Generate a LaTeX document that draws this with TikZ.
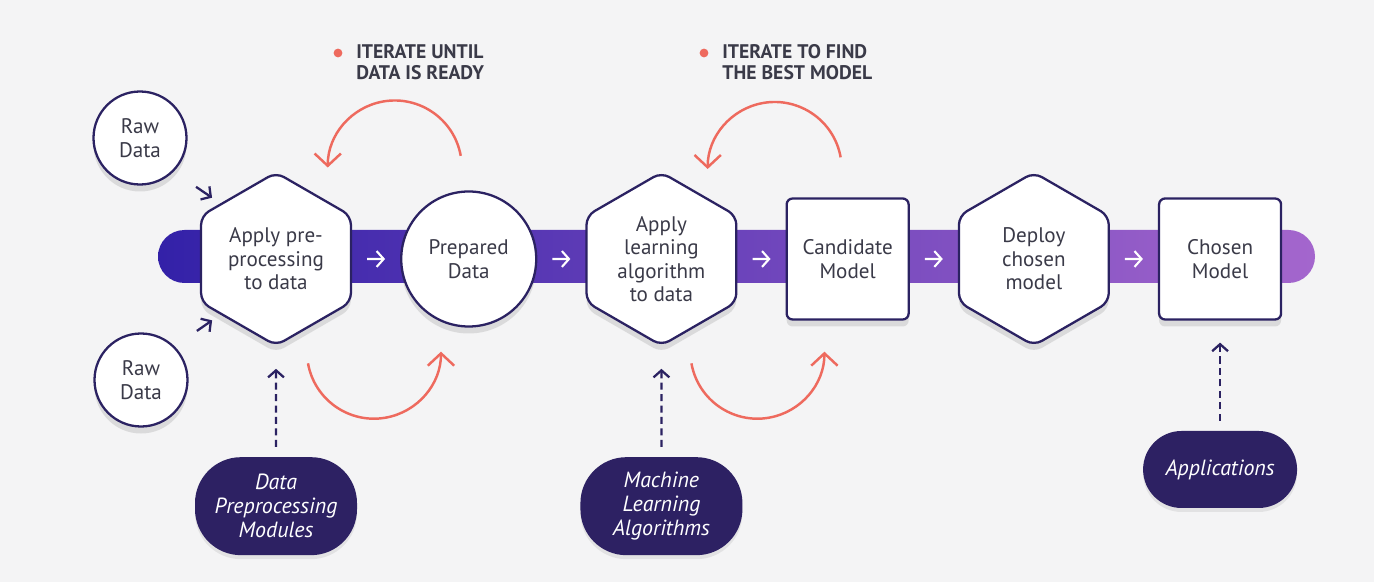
\documentclass[tikz,border=0pt]{standalone}
\usepackage{fontspec}
\setmainfont{PT Sans}
\usepackage{xcolor}
\usepackage{tikz}
\usetikzlibrary{shapes,arrows.meta,positioning,calc,shadows,fadings}

\definecolor{bgc}{HTML}{F4F4F5}
\definecolor{glowc}{HTML}{D8DEF2}
\definecolor{navy}{HTML}{2B2262}
\definecolor{pillc}{HTML}{2D2163}
\definecolor{txtc}{HTML}{3A3A48}
\definecolor{loopc}{HTML}{EE6A5E}
\definecolor{bandl}{HTML}{3321A8}
\definecolor{bandr}{HTML}{A466CD}

\tikzfading[name=fadeleft, left color=transparent!100, right color=transparent!0]
\tikzfading[name=faderight, left color=transparent!0, right color=transparent!100]

\begin{document}
\begin{tikzpicture}[
    node distance=0.96cm and 0.96cm,
    base/.style={draw=navy, line width=1.3pt, fill=white, font=\fontsize{12}{13.3}\selectfont, text=txtc, align=center, inner sep=0pt,
      drop shadow={shadow xshift=0pt, shadow yshift=-0.14cm, opacity=0.15, fill=black!70}},
    hexa/.style={base, regular polygon, regular polygon sides=6, shape border rotate=30, minimum size=3.46cm, rounded corners=0.18cm},
    roundbox/.style={base, circle, minimum size=2.7cm},
    rawbox/.style={base, circle, minimum size=1.86cm},
    sqbox/.style={base, rectangle, rounded corners=0.12cm, minimum width=2.44cm, minimum height=2.42cm},
    pill/.style={rectangle, fill=pillc, text=white, font=\itshape\fontsize{12.5}{13.6}\selectfont, align=center, inner sep=0pt,
      minimum width=3.24cm, minimum height=1.96cm, rounded corners=0.92cm,
      drop shadow={shadow xshift=0pt, shadow yshift=-0.08cm, opacity=0.1, fill=black!70}},
    flow/.style={white, line width=1.2pt, -{Straight Barb[length=4pt, width=9pt]}, shorten <=0.3cm, shorten >=0.3cm},
    feed/.style={navy, line width=1.3pt, dash pattern=on 4pt off 2.5pt, -{Straight Barb[length=4pt, width=9pt]}, shorten <=0.2cm, shorten >=0.44cm},
    rawarrow/.style={navy, line width=1.3pt, -{Straight Barb[length=4pt, width=9pt]}, shorten <=0.54cm, shorten >=0.2cm},
    iterarrow/.style={loopc, line width=1.4pt, -{Straight Barb[length=7pt, width=15pt]}},
    note/.style={font=\bfseries\fontsize{11.2}{12.2}\selectfont, text=txtc, align=left, anchor=north west, inner sep=0pt},
    reddot/.style={circle, fill=loopc, minimum size=5pt, inner sep=0pt},
    glow/.style={top color=bgc, middle color=glowc, bottom color=bgc}
]
  % Background and glow
  \fill[bgc] (0,0) rectangle (27.48,-11.64);
  \useasboundingbox (0,0) rectangle (27.48,-11.64);
  \shade[glow, path fading=fadeleft] (1.8,-3.8) rectangle (5.0,-7.9);
  \shade[glow] (4.98,-3.8) rectangle (24.52,-7.9);
  \shade[glow, path fading=faderight] (24.5,-3.8) rectangle (27.3,-7.9);

  % Band
  \shade[left color=bandl, right color=bandr, rounded corners=0.53cm] (3.16,-4.60) rectangle (26.30,-5.66);

  % Main row
  \node[hexa] (prep1) at (5.52,-5.18) {Apply pre-\\processing\\to data};
  \node[roundbox, right=of prep1] (ready) {Prepared\\Data};
  \node[hexa, right=of ready] (learn) {Apply\\learning\\algorithm\\to data};
  \node[sqbox, right=of learn] (cand) {Candidate\\Model};
  \node[hexa, right=of cand] (deploy) {Deploy\\chosen\\model};
  \node[sqbox, right=of deploy] (chosen) {Chosen\\Model};

  % Inputs
  \node[rawbox] (raw1) at (2.80,-2.76) {Raw\\Data};
  \node[rawbox] (raw2) at (2.82,-7.60) {Raw\\Data};

  % Bottom row
  \node[pill, below=2.2cm of prep1] (dpm) {Data\\Preprocessing\\Modules};
  \node[pill, below=2.2cm of learn] (mla) {Machine\\Learning\\Algorithms};
  \node[pill, minimum width=3.08cm, minimum height=1.54cm, rounded corners=0.77cm, below=2.2cm of chosen] (apps) {Applications};

  % Notes
  \node[note] (iterA) at (7.12,-0.88) {ITERATE UNTIL\\DATA IS READY};
  \node[reddot] (dotA) at (6.76,-1.06) {};
  \node[note] (iterB) at (14.44,-0.88) {ITERATE TO FIND\\THE BEST MODEL};
  \node[reddot] (dotB) at (14.08,-1.06) {};

  % Arrows
  \draw[flow] (prep1) -- (ready);
  \draw[flow] (ready) -- (learn);
  \draw[flow] (learn) -- (cand);
  \draw[flow] (cand) -- (deploy);
  \draw[flow] (deploy) -- (chosen);
  \draw[rawarrow] (raw1.south east) -- (prep1.north west);
  \draw[rawarrow] (raw2.north east) -- (prep1.south west);
  \draw[feed] (dpm) -- (prep1);
  \draw[feed] (mla) -- (learn);
  \draw[feed] (apps) -- (chosen);

  % Iteration loops
  \coordinate (loopA) at ($(ready.north)+(-0.16,0.69)$);
  \coordinate (loopB) at ($(cand.north)+(-0.14,0.80)$);
  \coordinate (loopC) at ($(prep1.south)+(0.64,-0.33)$);
  \coordinate (loopD) at ($(learn.south)+(0.60,-0.33)$);
  \draw[iterarrow] (loopA) arc[start angle=10, end angle=180, radius=1.34cm];
  \draw[iterarrow] (loopB) arc[start angle=10, end angle=180, radius=1.34cm];
  \draw[iterarrow] (loopC) arc[start angle=190, end angle=360, radius=1.34cm];
  \draw[iterarrow] (loopD) arc[start angle=190, end angle=360, radius=1.34cm];
\end{tikzpicture}
\end{document}
